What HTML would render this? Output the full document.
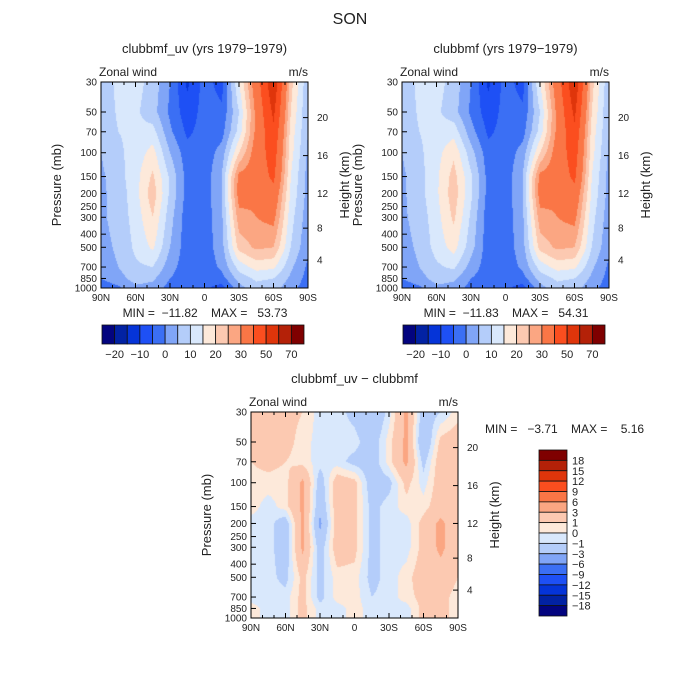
<!DOCTYPE html>
<html><head><meta charset="utf-8"><style>
body{margin:0;background:#fff;}
#wrap{position:relative;width:700px;height:700px;overflow:hidden;font-family:"Liberation Sans",sans-serif;}
canvas{position:absolute;}
svg{position:absolute;left:0;top:0;}
text{white-space:pre;}
</style></head><body>
<div id="wrap">
<canvas id="c1" width="207" height="206" style="left:101px;top:82px"></canvas>
<canvas id="c2" width="207" height="206" style="left:402px;top:82px"></canvas>
<canvas id="c3" width="207" height="206" style="left:251px;top:412px"></canvas>
<svg id="s" width="700" height="700"></svg>
</div>
<script>
const levelsP=[30,50,70,100,150,200,300,500,700,850,1000];
const latLabels=["90N","60N","30N","0","30S","60S","90S"];
const pTicks=[30,50,70,100,150,200,250,300,400,500,700,850,1000];
const hTicks=[4,8,12,16,20];
const hTickP=[622,361,200,105,55];
const colors=["#03047f","#0222a3","#0534d8","#1e50f5","#3b6ff4","#80a5f7","#b4cdfa","#d9e8fc","#fde9da","#fcc9b1","#fba682","#fa7646","#fb4e1f","#df350b","#b42108","#7f0000"];
const bndTop=[-20,-15,-10,-5,0,5,10,15,20,25,30,40,50,60,70];
const bndDiff=[-18,-15,-12,-9,-6,-3,-1,0,1,3,6,9,12,15,18];
const cbTopLabels=["-20","-10","0","10","20","30","50","70"];
const cbDiffLabels=["18","15","12","9","6","3","1","0","-1","-3","-6","-9","-12","-15","-18"];
const gridA=[
[5,12,12,8,0,-11,-3,-7,15,35,58,22,6],
[5,11,11,7,-1,-8,-3,-4,10,32,52,20,5],
[5,10,11,12,1,-6,-3,-2,12,32,48,18,5],
[5,9,12,17,5,-3,-3,2,20,34,45,17,4],
[4,8,13,21,9,-2,-3,5,32,34,42,15,3],
[4,7,13,23,9,-2,-3,5,33,31,37,14,3],
[4,7,12,20,7,-3,-3,4,28,30,32,12,2],
[3,6,11,16,5,-3,-3,3,22,26,25,10,1],
[2,5,9,10,2,-3,-3,1,12,17,16,6,-1],
[0,3,7,6,0,-3,-4,-2,7,11,10,4,-2],
[-3,-1,4,3,-2,-4,-4,-7,3,8,7,2,-3]];
const gridB=[
[5,12,12,8,0,-11,-3,-7,15,35,58,22,6],
[5,11,11,7,-1,-8,-3,-4,10,32,52,20,5],
[5,10,12,13,2,-6,-3,-2,12,32,48,18,5],
[5,9,13,19,7,-3,-3,2,20,34,45,17,4],
[4,8,14,22,11,-2,-3,5,32,34,42,15,3],
[4,8,14,23,11,-2,-3,5,33,31,37,14,3],
[4,7,13,21,9,-3,-3,4,28,30,32,12,2],
[3,6,12,17,7,-3,-3,3,22,26,25,10,1],
[2,5,9,11,3,-3,-3,1,12,17,16,6,-1],
[0,3,7,6,0,-3,-4,-2,7,11,10,4,-2],
[-3,-1,4,3,-2,-4,-4,-7,3,8,7,2,-3]];
const gridD=[
[1,1.5,1.5,1,-0.5,-0.5,-1.5,-3,-0.5,3.5,-2,-1,0.5],
[1,1.5,1.5,0.5,-0.5,-0.5,-0.5,-2,0.5,3.5,-3,1.5,2],
[1,1.5,1,0.5,-0.5,-0.5,-1.5,-2,0.5,3.5,-1.5,2,1.5],
[0.5,0.5,0.5,3.5,-2,2,1.5,-2,-1.5,1.5,-0.5,2,1.5],
[0.5,-0.5,0.5,3.5,-2.5,2,1.5,-1.5,-0.5,0.5,0.5,2,1.5],
[-0.5,-0.5,-2,3.5,-3.5,2,1.5,-1.5,-0.5,-0.5,1.5,3.5,1.5],
[-0.5,-0.5,-2,3.5,-2,2,1.5,-1.5,-0.5,-0.5,1.5,3.5,1.5],
[-0.5,-0.5,-1.5,1.5,-1.5,0.5,0.5,-1.5,-0.5,0.5,2,2,1],
[-0.5,-0.5,-0.5,1.5,-1.5,0.5,0.5,-1,-0.5,0.5,1.5,1.5,0.5],
[0.5,-0.5,-0.5,1.5,-0.5,-0.5,0.5,-0.5,-0.5,-0.5,1.5,1.5,0.5],
[0.5,-0.5,-0.5,1.5,-0.5,-0.5,0.5,-0.5,-0.5,-0.5,1.5,1.5,0.5]];

const W=207,H=206,L0=Math.log(30),L1=Math.log(1000);
function yOfP(p){return (Math.log(p)-L0)/(L1-L0)*H;}
function hex(c){return [parseInt(c.substr(1,2),16),parseInt(c.substr(3,2),16),parseInt(c.substr(5,2),16)];}
const rgb=colors.map(hex);
function fill(id,grid,bnd){
  const cv=document.getElementById(id),ctx=cv.getContext('2d');
  const img=ctx.createImageData(W,H);const nl=grid[0].length-1;
  for(let py=0;py<H;py++){
    const lp=L0+(py+0.5)/H*(L1-L0);
    let k=0;while(k<levelsP.length-2&&Math.log(levelsP[k+1])<lp)k++;
    const a=Math.log(levelsP[k]),b=Math.log(levelsP[k+1]);
    let ty=Math.min(1,Math.max(0,(lp-a)/(b-a)));
    for(let px=0;px<W;px++){
      const fx=(px+0.5)/W*nl;let i=Math.min(nl-1,Math.floor(fx));const tx=fx-i;
      const v=(grid[k][i]*(1-tx)+grid[k][i+1]*tx)*(1-ty)+(grid[k+1][i]*(1-tx)+grid[k+1][i+1]*tx)*ty;
      let bi=0;while(bi<bnd.length&&v>=bnd[bi])bi++;
      const c=rgb[bi],o=(py*W+px)*4;img.data[o]=c[0];img.data[o+1]=c[1];img.data[o+2]=c[2];img.data[o+3]=255;
    }
  }
  ctx.putImageData(img,0,0);
}
fill('c1',gridA,bndTop);fill('c2',gridB,bndTop);fill('c3',gridD,bndDiff);

const S=document.getElementById('s'),NS='http://www.w3.org/2000/svg';
function el(t,at,txt){const e=document.createElementNS(NS,t);for(const k in at)e.setAttribute(k,at[k]);if(txt!==undefined)e.textContent=txt;S.appendChild(e);return e;}
function txt(x,y,s,size,anchor,name,rot){const e=el('text',{x:x,y:y,'font-size':size,'text-anchor':anchor||'middle',fill:'#222'},s);
 if(rot)e.setAttribute('transform','rotate(-90 '+x+' '+y+')');
 
 return e;}
function line(x1,y1,x2,y2,name){const e=el('line',{x1:x1,y1:y1,x2:x2,y2:y2,stroke:'#000','stroke-width':1});
 
 }
function frame(ox,oy,title){
  const r=el('rect',{x:ox,y:oy,width:W,height:H,fill:'none',stroke:'#000','stroke-width':1});
  
  
  txt(ox+W/2,oy-29,title,13,'middle','panel-title');
  txt(ox-2,oy-6,'Zonal wind',12,'start','panel-left-string');
  txt(ox+W,oy-6,'m/s',12,'end','units-label');
  for(let d=0;d<=180;d+=10){const x=ox+d/180*W,len=d%30===0?5:3;line(x,oy+H,x,oy+H-len,'x-tick');line(x,oy,x,oy+len,'x-tick');}
  latLabels.forEach((s,i)=>txt(ox+i*W/6,oy+H+13,s,10,'middle','x-tick-label'));
  pTicks.forEach(p=>{const y=oy+yOfP(p);line(ox,y,ox+5,y,'y-tick');txt(ox-4,y+3.5,String(p),10,'end','y-tick-label');});
  hTicks.forEach((h,i)=>{const y=oy+yOfP(hTickP[i]);line(ox+W,y,ox+W-5,y,'height-tick');txt(ox+W+9,y+3.5,String(h),10,'start','height-tick-label');});
  txt(ox-40,oy+H/2,'Pressure (mb)',13,'middle','y-axis-title',true);
  txt(ox+W+41,oy+H/2,'Height (km)',13,'middle','right-axis-title',true);
}
txt(350,24,'SON',16,'middle','figure-title');
frame(101,82,'clubbmf_uv (yrs 1979\u22121979)');
frame(402,82,'clubbmf (yrs 1979\u22121979)');
frame(251,412,'clubbmf_uv \u2212 clubbmf');
txt(205,317,'MIN =  \u221211.82    MAX =   53.73',12,'middle','min-max-label');
txt(506,317,'MIN =  \u221211.83    MAX =   54.31',12,'middle','min-max-label');
txt(485,433,'MIN =   \u22123.71    MAX =    5.16',12,'start','min-max-label');
function hbar(ox){
  const bw=202/16;
  colors.forEach((c,i)=>{const r=el('rect',{x:ox+i*bw,y:325,width:bw,height:19,fill:c,stroke:'#111','stroke-width':0.8});
    
    });
  cbTopLabels.forEach((s,i)=>txt(ox+(1+2*i)*bw,358,s.replace('-','\u2212'),11,'middle','colorbar-label'));
}
hbar(102);hbar(403);
const bh=166/16;
colors.slice().reverse().forEach((c,i)=>{const r=el('rect',{x:539,y:450+i*bh,width:28,height:bh,fill:c,stroke:'#111','stroke-width':0.8});
 
 });
cbDiffLabels.forEach((s,i)=>txt(572,450+(i+1)*bh+4,s.replace('-','\u2212'),11,'start','colorbar-label'));
</script>
</body></html>
